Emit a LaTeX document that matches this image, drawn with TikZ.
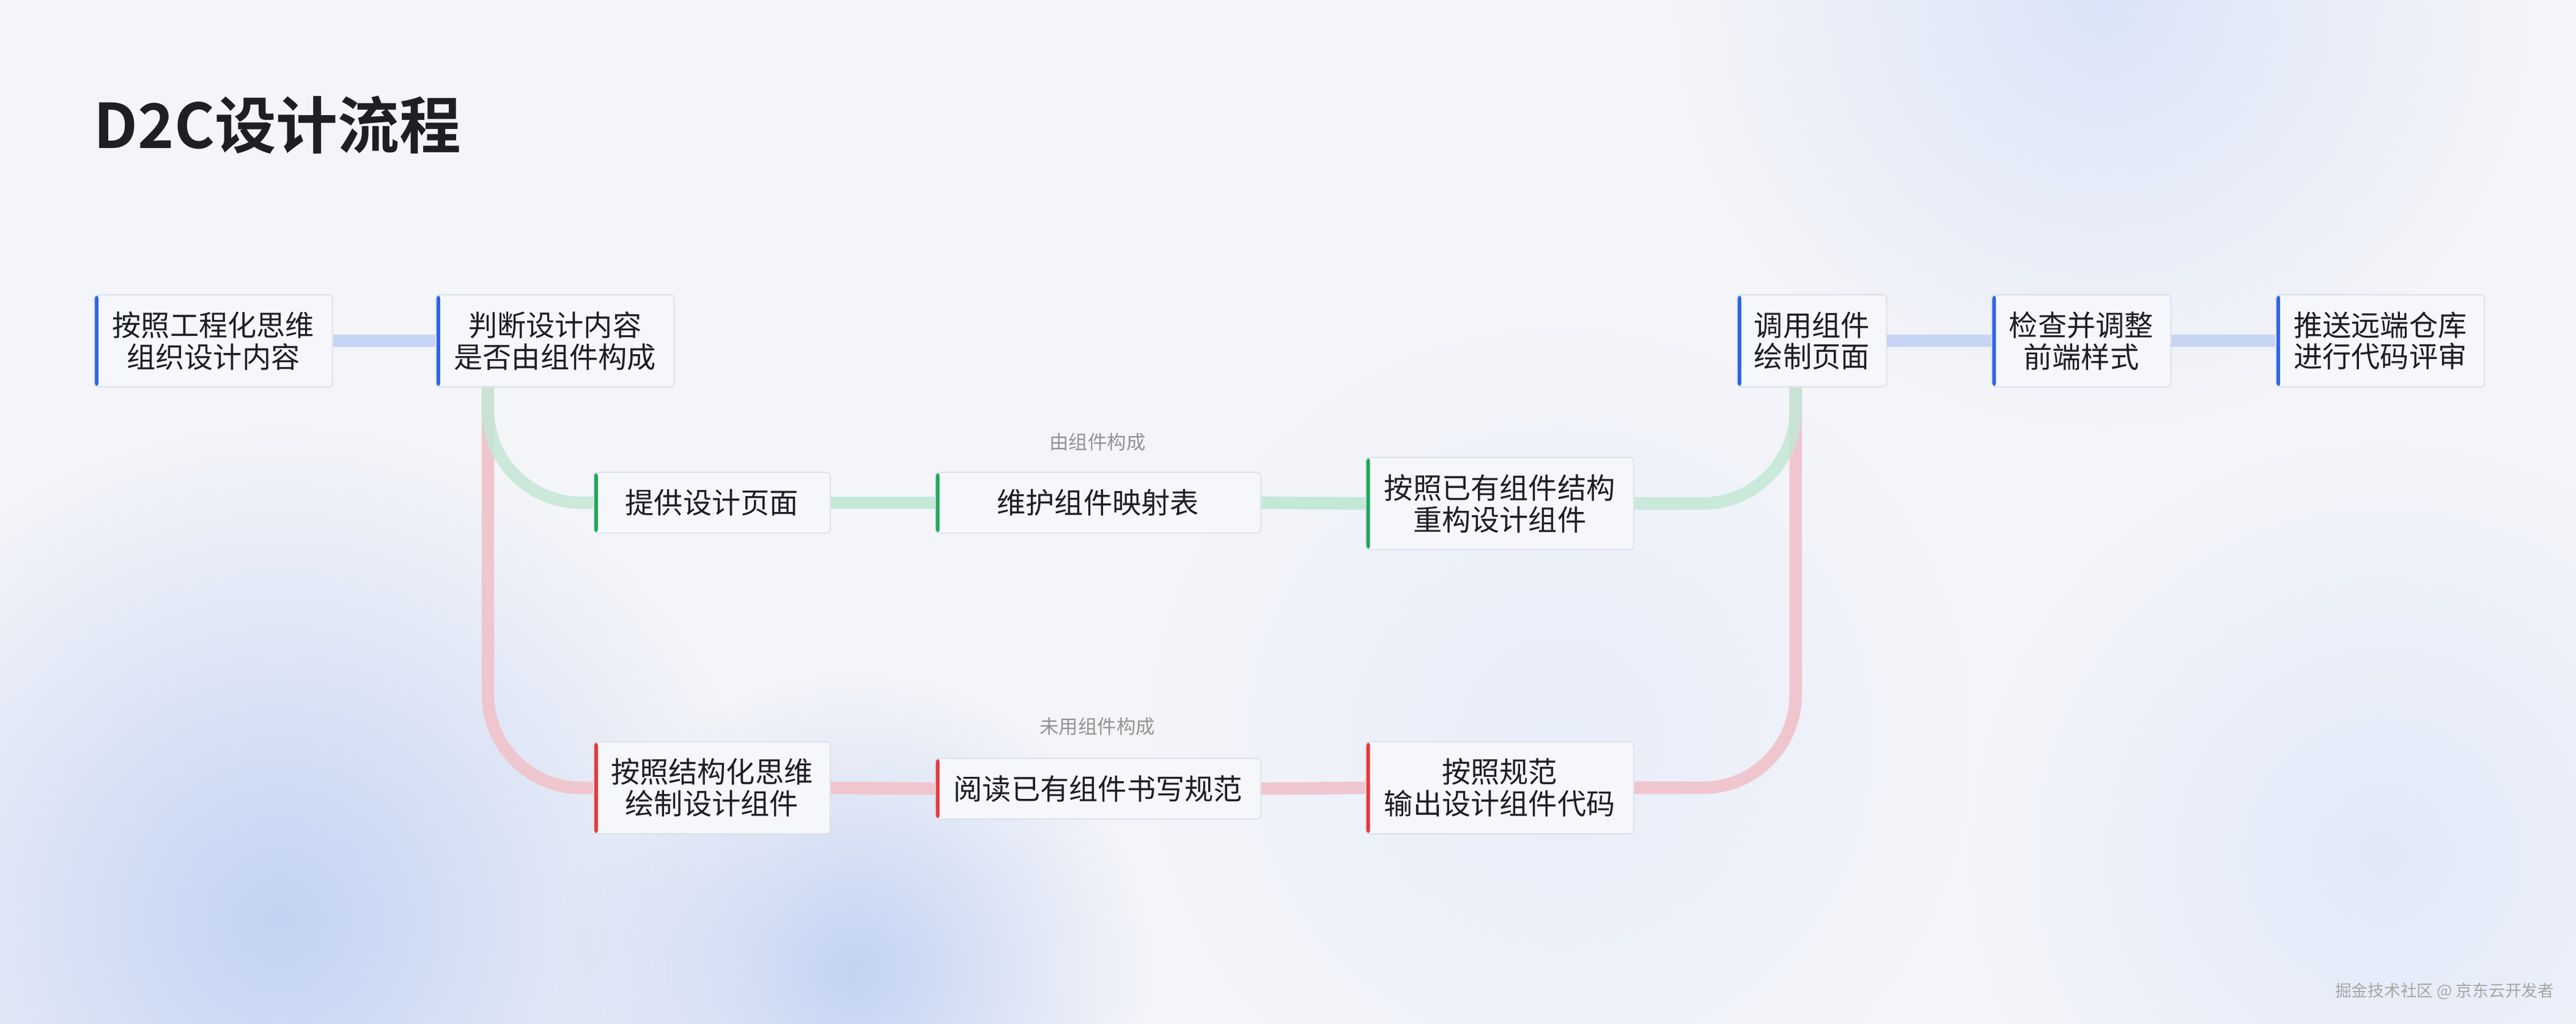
\documentclass[tikz,border=0pt]{standalone}
\usepackage{fontspec}
\setmainfont{Noto Sans CJK SC}
\newfontfamily\titlefont{Noto Sans CJK SC Bold}
\usetikzlibrary{fadings}
\pgfdeclarelayer{bg}
\pgfsetlayers{bg,main}
\tikzfading[name=blobfade, inner color=transparent!0, outer color=transparent!100]
\definecolor{bgc}{HTML}{F4F5F9}
\definecolor{blobc}{HTML}{C3D3F3}
\definecolor{lblue}{HTML}{C6D5F4}
\definecolor{lgreen}{HTML}{C3E8D6}
\definecolor{lred}{HTML}{F0C6CE}
\definecolor{bblue}{HTML}{2F66E0}
\definecolor{bgreen}{HTML}{1EA85A}
\definecolor{bred}{HTML}{E8383B}
\definecolor{boxfill}{HTML}{F6F7FB}
\definecolor{boxline}{HTML}{DCE0EA}
\definecolor{txt}{HTML}{1E1E24}
\tikzset{
 box/.style={draw=boxline, line width=0.6pt, fill=boxfill, rounded corners=2pt, anchor=north west,
   align=center, inner sep=0pt, text=txt, font=\fontsize{15}{16.5}\selectfont},
 bar/.style={path picture={\fill[#1] (path picture bounding box.north west) rectangle ([xshift=2.2pt]path picture bounding box.south west);}},
 conn/.style={line width=6.5pt, #1, rounded corners=1.7cm},
 small/.style={font=\fontsize{10}{12}\selectfont, text=gray!85},
}
\begin{document}
\begin{tikzpicture}[x=0.03cm,y=-0.03cm]
\useasboundingbox (0,0) rectangle (1568,623);
\foreach \n/\c/\t/\w/\h/\x/\y in {
 A/bblue/{按照工程化思维\\组织设计内容}/145/56/57/179,
 B/bblue/{判断设计内容\\是否由组件构成}/145/56/265/179,
 C/bgreen/{提供设计页面}/144/37/361/287,
 D/bgreen/{维护组件映射表}/198/37/569/287,
 E/bgreen/{按照已有组件结构\\重构设计组件}/163/56/831/278,
 F/bblue/{调用组件\\绘制页面}/91/56/1057/179,
 G/bblue/{检查并调整\\前端样式}/109/56/1212/179,
 H/bblue/{推送远端仓库\\进行代码评审}/127/56/1385/179,
 I/bred/{按照结构化思维\\绘制设计组件}/144/56/361/451,
 J/bred/{阅读已有组件书写规范}/198/37/569/461,
 K/bred/{按照规范\\输出设计组件代码}/163/56/831/451}{
 \node[box, bar=\c, minimum width=\w*0.03cm, minimum height=\h*0.03cm] (\n) at (\x,\y) {\t};
}
\node[anchor=west, text=txt, font=\titlefont\fontsize{32}{36}\selectfont, inner sep=0pt] (title) at (57,76) {D2C设计流程};
\node[small] (l1) at (668,269) {由组件构成};
\node[small] (l2) at (668,442) {未用组件构成};
\node[anchor=east, inner sep=0pt, font=\fontsize{8.5}{10}\selectfont, text=gray!70] (wm) at (1555,603) {掘金技术社区 @ 京东云开发者};
\coordinate (bs) at (297,235);
\coordinate (fs) at (1093,235);
\begin{pgfonlayer}{bg}
\fill[bgc] (0,0) rectangle (1568,623);
\begin{scope}
\clip (0,0) rectangle (1568,623);
\fill[blobc, path fading=blobfade] (170,560) circle (300);
\fill[blobc, path fading=blobfade] (520,590) circle (180);
\fill[blobc!60, path fading=blobfade] (1280,0) circle (260);
\fill[blobc!50, path fading=blobfade] (1450,520) circle (250);
\fill[blobc!40, path fading=blobfade] (950,450) circle (250);
\end{scope}
\draw[conn=lblue] (A.east) -- (B.west);
\draw[conn=lblue] (F.east) -- (G.west);
\draw[conn=lblue] (G.east) -- (H.west);
\draw[conn=lred] (bs) |- (I.west);
\draw[conn=lgreen, opacity=0.85] (bs) |- (C.west);
\draw[conn=lgreen] (C.east) -- (D.west);
\draw[conn=lgreen] (D.east) -- (E.west);
\draw[conn=lred] (I.east) -- (J.west);
\draw[conn=lred] (J.east) -- (K.west);
\draw[conn=lred] (K.east) -| (fs);
\draw[conn=lgreen, opacity=0.85] (E.east) -| (fs);
\end{pgfonlayer}
\end{tikzpicture}
\end{document}
